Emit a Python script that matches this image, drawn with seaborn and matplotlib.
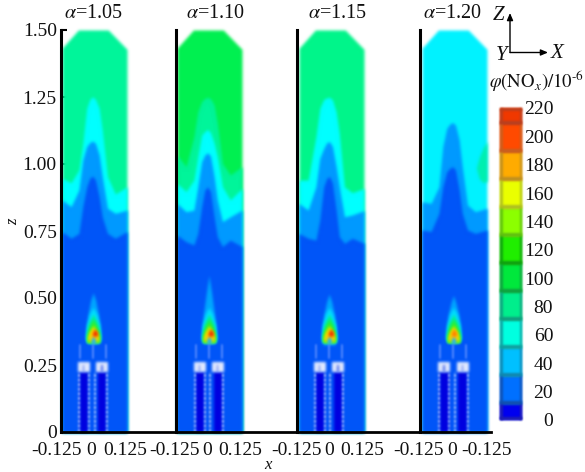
import numpy as np
import matplotlib
matplotlib.use("Agg")
import matplotlib.pyplot as plt
from matplotlib.colors import ListedColormap
from matplotlib.patches import FancyArrowPatch
from matplotlib.transforms import Affine2D
import seaborn as sns

# shared x stations for the contour boundaries
x_grid = [-0.125, -0.09, -0.06, -0.045, -0.03, -0.018, -0.007, 0.004, 0.018, 0.03, 0.05, 0.08, 0.125]
outline_x = [-0.125, -0.062, 0.053, 0.125]
outline_z = [1.432, 1.5, 1.5, 1.428]

# panel 1, alpha=1.05
p1_z60 = [.947, .930, .978, 1.077, 1.208, 1.241, 1.251, 1.241, 1.208, 1.127, .953, .888, .915]
p1_z40 = [.866, .841, .903, 1.015, 1.065, 1.080, 1.086, 1.077, 1.034, .953, .835, .816, .828]
p1_z20 = [.748, .723, .741, .841, .915, .947, .955, .940, .878, .803, .741, .723, .748]
# panel 2, alpha=1.10
p2_z80 = [1.034, .990, 1.102, 1.195, 1.233, 1.245, 1.249, 1.244, 1.220, 1.152, 1.002, .959, .990]
p2_z60 = [.928, .897, .940, 1.027, 1.108, 1.121, 1.129, 1.117, 1.077, 1.027, .915, .866, .909]
p2_z40 = [.853, .822, .828, .915, 1.009, 1.034, 1.042, 1.030, .953, .866, .785, .803, .828]
p2_z20 = [.735, .710, .698, .741, .841, .903, .915, .897, .803, .729, .692, .716, .692]
# panel 3, alpha=1.15
p3_z60 = [.940, .940, 1.102, 1.208, 1.241, 1.247, 1.249, 1.239, 1.195, 1.114, .915, .893, .909]
p3_z40 = [.853, .828, .915, 1.021, 1.058, 1.080, 1.083, 1.065, .990, .915, .803, .810, .826]
p3_z20 = [.741, .723, .716, .791, .915, .947, .953, .928, .828, .729, .704, .723, .704]
# panel 4, alpha=1.20
p4_z40 = [.859, .853, .915, 1.065, 1.133, 1.149, 1.155, 1.145, 1.090, .990, .847, .822, .835]
p4_z20 = [.754, .748, .816, .915, .971, .984, .990, .978, .903, .816, .754, .741, .754]
blob_x = [0.084, 0.095, 0.110, 0.125]
blob_top = [0.985, 1.025, 1.060, 1.085]
blob_bot = [0.985, 0.945, 0.930, 0.935]

# flame layers: height and half width, measured from the flame axis
flame_outer_z = [
    [.33, .345, .39, .44, .49, .52],
    [.33, .345, .39, .45, .52, .585],
    [.325, .34, .39, .44, .485, .515],
    [.337, .35, .39, .44, .48, .51],
]
flame_outer_w = [.022, .030, .028, .020, .010, 0]
flame_x = [-.005, -.002, -.009, -.004]
flame_layers = [
    ("#00e0ff", [.335, .35, .40, .44, .465], [.022, .028, .024, .014, 0]),
    ("#00f090", [.335, .36, .40, .44], [.024, .027, .020, 0]),
    ("#30f030", [.335, .36, .39, .42], [.024, .025, .016, 0]),
    ("#a8f000", [.335, .35, .375, .40], [.023, .022, .015, 0]),
    ("#ffd000", [.345, .355, .37, .39], [.020, .019, .014, 0]),
    ("#20b0ff", [.33, .345, .36], [.009, .007, 0]),
]
core_z = [.358, .37, .385]
core_w = [.009, .010, 0]

alpha_labels = [r"$\alpha$=1.05", r"$\alpha$=1.10", r"$\alpha$=1.15", r"$\alpha$=1.20"]
alpha_px = [93, 215, 337, 452]
y_ticks = [0, 0.25, 0.5, 0.75, 1.0, 1.25, 1.5]
y_labels = ["0", "0.25", "0.50", "0.75", "1.00", "1.25", "1.50"]
x_ticks = [-0.125, 0, 0.125]
x_labels = [
    ["-0.125", "0", "0.125"],
    ["-0.125", "0", "0.125"],
    ["-0.125", "0", "0.125"],
    ["-0.125", "0", "-0.125"],
]
x_label_shift = [[-5, -3, -2], [-2, -2, -2], [-2, -2, -2], [-4, -2.5, 0]]

# colour scale, top to bottom
cbar_levels = [220, 200, 180, 160, 140, 120, 100, 80, 60, 40, 20, 0]
cbar_rows = [4, 7, 7, 7, 7, 7, 7, 7, 7, 7, 7, 4]
cbar_colors = ["#f03800", "#ff4a00", "#ffab00", "#eaff00", "#8cff00", "#20ee00",
               "#00e83c", "#00ee8c", "#00ffe0", "#00c0ff", "#0070ff", "#0000f0"]
cbar_edges = ["#b84020", "#c86020", "#c09020", "#b0c020", "#60c010", "#10a010",
              "#10a040", "#10a080", "#10a0a0", "#1088b0", "#1050b0", "#2020b0"]

C100, C80, C60, C40, C20 = "#00f050", "#00f59a", "#00ffff", "#0099ff", "#0055f8"
panels = [
    dict(left=61, right=176, inset=1, top=C80, layers=[(C60, p1_z60), (C40, p1_z40), (C20, p1_z20)]),
    dict(left=176, right=297, inset=1, top=C100, layers=[(C80, p2_z80), (C60, p2_z60), (C40, p2_z40), (C20, p2_z20)]),
    dict(left=297, right=420, inset=2, top="#00f58a", layers=[(C60, p3_z60), (C40, p3_z40), (C20, p3_z20)]),
    dict(left=420, right=491, inset=2, top="#00f2ff", layers=[(C40, p4_z40), (C20, p4_z20)]),
]

sns.set_theme(style="ticks")
plt.rcParams["font.family"] = ["Liberation Serif", "DejaVu Serif"]
plt.rcParams["mathtext.fontset"] = "stix"

W, H = 585, 472
PX_PER_X = 260
INK = "#111111"
fig = plt.figure(figsize=(W / 100, H / 100), dpi=100)


def add_axes_px(left, right, top, bottom):
    return fig.add_axes([left / W, 1 - bottom / H, (right - left) / W, (bottom - top) / H])


def soften(img, dpi):
    # the source is a blurry scan, so soften the edges of the filled bands
    pad = 3
    out = np.pad(img, ((pad, pad), (pad, pad), (0, 0)))
    out[..., :3] *= out[..., 3:]
    for axis in (0, 1):
        for _ in range(2):
            out = (np.roll(out, 1, axis) + 2 * out + np.roll(out, -1, axis)) / 4
    a = out[..., 3:]
    out[..., :3] = np.divide(out[..., :3], a, out=np.zeros_like(out[..., :3]), where=a > 0)
    return out, -pad, -pad


def soften_all(ax):
    for art in list(ax.collections) + list(ax.lines):
        art.set_agg_filter(soften)


for i, p in enumerate(panels):
    ax = add_axes_px(p["left"], p["right"], 30, 432)
    x0 = -0.125 - p["inset"] / PX_PER_X
    ax.set_xlim(x0, x0 + (p["right"] - p["left"]) / PX_PER_X)
    ax.set_ylim(0, 1.5)
    ax.patch.set_alpha(0)

    ax.fill_between(outline_x, 0, outline_z, color=p["top"], lw=0)
    for color, z in p["layers"]:
        ax.fill_between(x_grid, 0, z, color=color, lw=0)
    if i == 3:
        ax.fill_between(blob_x, blob_bot, blob_top, color="#00f0b0", lw=0)

    # burner
    cx = flame_x[i]
    for a, b in [(-.051, -.019), (.019, .051)]:
        ax.fill_between([cx + a, cx + b], 0, 0.225, color="#0000e0", lw=0)
        ax.fill_between([cx + a - .007, cx + b + .007], 0.225, 0.262, color="#e4ecff", lw=0)
        ax.fill_between([cx + a + .012, cx + a + .017], 0.225, 0.25, color="#4060e8", lw=0)
    for dx in [-.054, -.016, .005, .054]:
        ax.plot([cx + dx, cx + dx], [0, .225], color="#c8d4ff", lw=1.1, ls=(0, (2, 1)))
    for dx in [-.05, 0, .05]:
        ax.plot([cx + dx, cx + dx], [.275, .325], color="#5f90ff", lw=1.2)

    # flame
    ax.fill_betweenx(flame_outer_z[i], cx - np.array(flame_outer_w), cx + np.array(flame_outer_w),
                     color="#00a8ff", lw=0)
    for color, z, w in flame_layers:
        ax.fill_betweenx(z, cx - np.array(w), cx + np.array(w), color=color, lw=0)
    core_dx = .007 if i < 3 else .002
    core_color = "#f03000" if i < 3 else "#ff8000"
    ax.fill_betweenx(core_z, cx + core_dx - np.array(core_w), cx + core_dx + np.array(core_w),
                     color=core_color, lw=0)
    soften_all(ax)

    sns.despine(ax=ax, top=True, right=True)
    ax.spines["left"].set_linewidth(2.2)
    ax.spines["left"].set_color("black")
    ax.spines["bottom"].set_linewidth(2)
    ax.spines["bottom"].set_color("black")
    ax.set_xticks(x_ticks)
    ax.set_xticklabels(x_labels[i], fontsize=14, color=INK)
    ax.tick_params(axis="x", length=0, pad=7)
    for lab, dx in zip(ax.get_xticklabels(), x_label_shift[i]):
        lab.set_transform(lab.get_transform() + Affine2D().translate(dx, 0))
    if i == 0:
        ax.set_yticks(y_ticks)
        ax.set_yticklabels(y_labels, fontsize=14, color=INK)
        ax.tick_params(axis="y", direction="in", length=4, width=1.5, color="black", pad=3)
    else:
        ax.set_yticks([])
    fig.text(alpha_px[i] / W, 1 - 14 / H, alpha_labels[i], ha="center", va="center", fontsize=14.5, color=INK)

# colour scale
cax = add_axes_px(500, 522, 108, 420)
cbar_data = np.repeat(cbar_levels, cbar_rows).reshape(-1, 1)
sns.heatmap(cbar_data, ax=cax, cbar=False, vmin=-10, vmax=230,
            cmap=ListedColormap(cbar_colors[::-1]), xticklabels=False)
edges = np.cumsum([0] + cbar_rows)
for k, color in enumerate(cbar_edges):
    cax.plot([0.04, 0.04], [edges[k], edges[k + 1]], color=color, lw=2, solid_capstyle="butt")
    cax.plot([0.96, 0.96], [edges[k], edges[k + 1]], color=color, lw=2, solid_capstyle="butt")
    cax.plot([0, 1], [edges[k + 1] - .3, edges[k + 1] - .3], color=color, lw=3, solid_capstyle="butt")
    if k == 0:
        cax.plot([0, 1], [.2, .2], color=color, lw=2, solid_capstyle="butt")
soften_all(cax)
cax.yaxis.tick_right()
cax.set_yticks(np.linspace(0, 78, 12))
cax.set_yticklabels([str(v) for v in cbar_levels], fontsize=14, rotation=0, ha="right", color=INK)
cax.tick_params(axis="y", length=0, pad=22.5)

# text and the coordinate triad
fig.text(268 / W, 1 - 465 / H, "x", style="italic", fontsize=12, ha="center", va="center", color=INK)
fig.text(13 / W, 1 - 222 / H, "z", style="italic", fontsize=12, rotation=90, ha="center", va="center", color=INK)
fig.text(537 / W, 1 - 81 / H, r"$\varphi(\mathrm{NO}_x)/10^{\text{-6}}$", fontsize=13.5, ha="center", va="center", color=INK)
fig.text(499 / W, 1 - 16 / H, "Z", style="italic", fontsize=15, ha="center", va="center", color=INK)
fig.text(502 / W, 1 - 55 / H, "Y", style="italic", fontsize=15, ha="center", va="center", color=INK)
fig.text(557 / W, 1 - 53 / H, "X", style="italic", fontsize=15, ha="center", va="center", color=INK)
arrow = dict(arrowstyle="-|>,head_length=0.35,head_width=0.15", color="black", lw=1, shrinkA=0, shrinkB=0,
             transform=fig.transFigure, mutation_scale=12)
fig.add_artist(FancyArrowPatch((510 / W, 1 - 52.5 / H), (510 / W, 1 - 13 / H), **arrow))
fig.add_artist(FancyArrowPatch((510 / W, 1 - 52.5 / H), (548 / W, 1 - 52.5 / H), **arrow))

fig.savefig("out.png", dpi=100)
